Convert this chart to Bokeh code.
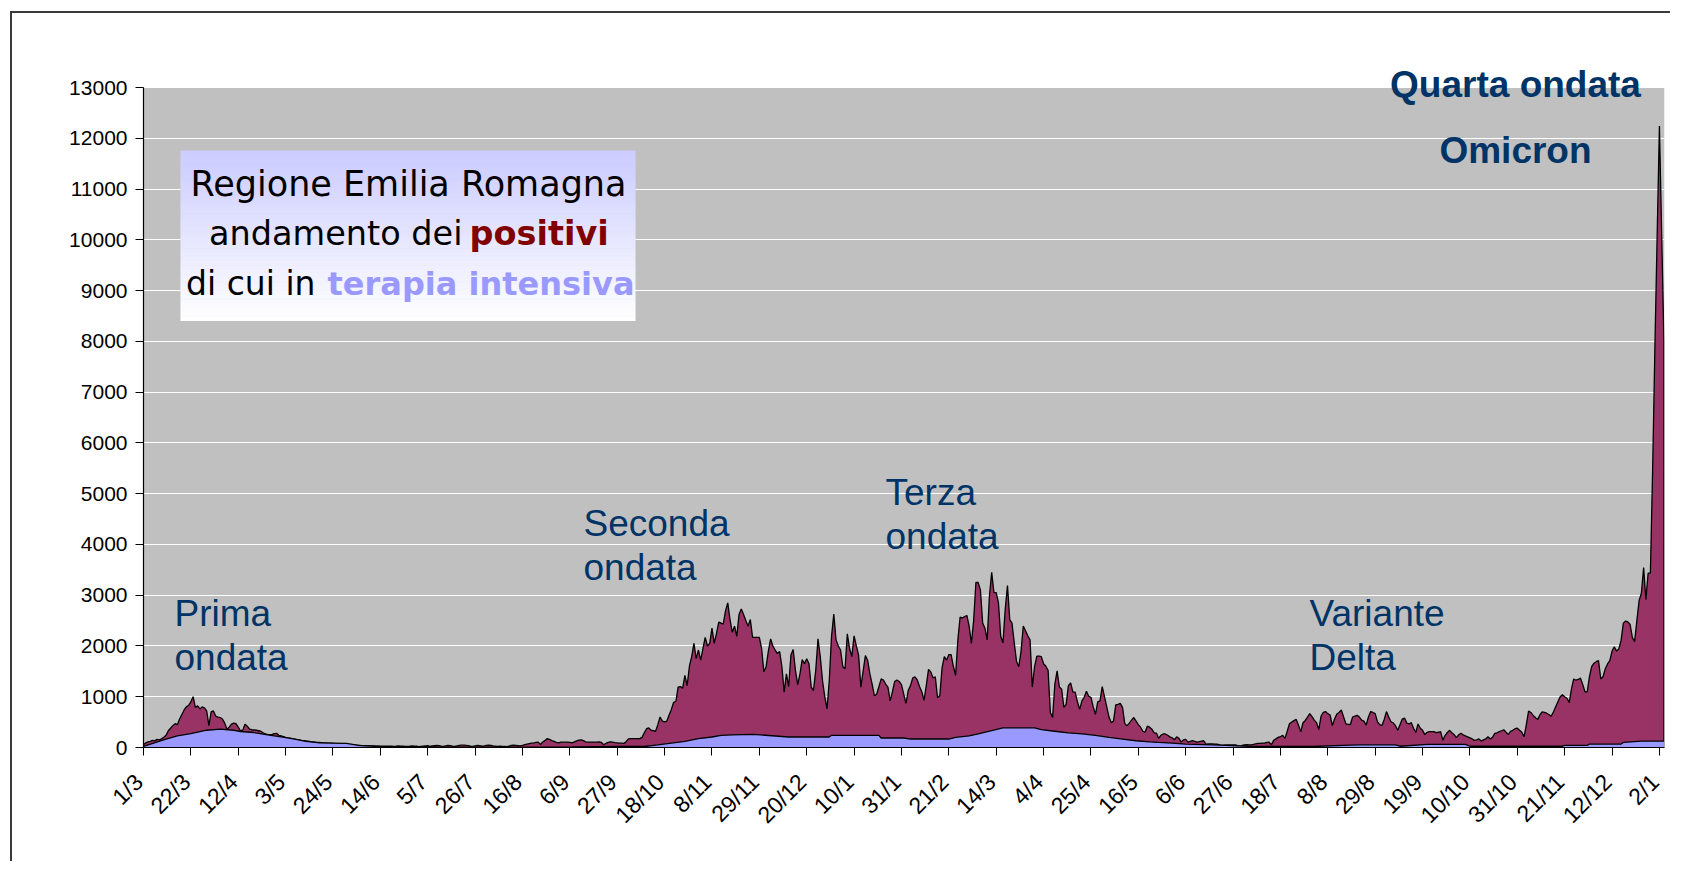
import math
from bokeh.plotting import figure
from bokeh.models import Range1d, FixedTicker, Label, NumeralTickFormatter
from bokeh.embed import file_html
from bokeh.resources import INLINE

# ---------------- data (daily new positives, Emilia-Romagna, from 1/3/2020) ----------------
mar20 = [60, 90, 110, 120, 140, 130, 160, 150, 170, 200, 240, 330, 380, 430, 470, 450, 560, 650, 740, 800,
         830, 900, 1000, 790, 820, 760, 800, 780, 720, 430, 700]
apr20 = [720, 620, 600, 590, 560, 480, 360, 400, 460, 480, 470, 400, 330, 340, 460, 420, 360, 350, 345, 340,
         330, 320, 290, 270, 260, 255, 260, 275, 280, 240]
may20 = [230, 215, 200, 190, 185, 175, 165, 155, 150, 140, 135, 130, 125, 115, 110, 105, 100, 100, 95, 90,
         90, 85, 85, 80, 75, 70, 70, 65, 60, 60, 55]
jun20 = [50, 45, 45, 40, 40, 38, 35, 35, 32, 30, 30, 28, 28, 25, 25, 25, 28, 25, 25, 22,
         25, 30, 28, 25, 20, 22, 25, 30, 28, 25]
jul20 = [15, 20, 25, 30, 35, 20, 30, 35, 40, 35, 25, 20, 30, 40, 35, 25, 20, 30, 40, 45,
         45, 40, 35, 25, 20, 30, 40, 35, 25, 30, 40]
aug20 = [45, 40, 30, 25, 20, 25, 20, 20, 15, 25, 40, 45, 40, 35, 30, 40, 55, 65, 75, 85,
         90, 100, 105, 60, 110, 140, 175, 160, 135, 120, 100]
sep20 = [90, 105, 105, 105, 105, 100, 90, 110, 130, 145, 150, 135, 110, 105, 105, 105, 105, 105, 110, 100,
         55, 80, 100, 110, 105, 95, 90, 85, 85, 80]
oct20 = [120, 170, 175, 175, 175, 175, 175, 200, 290, 370, 385, 340, 330, 320, 450, 600, 520, 507, 520, 640,
         750, 890, 910, 1190, 1200, 1170, 1420, 1220, 1600, 1790, 2050]
nov20 = [1750, 1920, 1720, 1950, 2170, 2000, 2050, 2350, 2050, 2250, 2470, 2450, 2430, 2690, 2850, 2520,
         2270, 2390, 2190, 2620, 2730, 2620, 2500, 2390, 2520, 2170, 2170, 2170, 2170, 1950]
dec20 = [1490, 1590, 1900, 2140, 2000, 1920, 1850, 1890, 1590, 1090, 1450, 1200, 1820, 1930, 1520, 1240,
         1450, 1730, 1650, 1750, 1650, 1190, 1120, 1520, 2140, 1790, 1320, 1000, 760, 1320, 2190]
jan21 = [2630, 2120, 2000, 1920, 1590, 1550, 2240, 1950, 1790, 2200, 2000, 1820, 1190, 1500, 1810, 1720,
         1450, 1250, 1020, 1050, 1200, 1350, 1330, 1250, 1190, 920, 1100, 1300, 1330, 1300, 1240]
feb21 = [1050, 870, 1120, 1220, 1370, 1390, 1330, 1200, 1100, 930, 1220, 1540, 1490, 1370, 1390, 980,
         1020, 1570, 1790, 1720, 1830, 1830, 1600, 1420, 2120, 2570, 2550, 2580]
mar21 = [2600, 2390, 2050, 2500, 3250, 3250, 3100, 2450, 2350, 2120, 2990, 3450, 3050, 3050, 2850, 2190,
         2060, 2720, 3190, 2520, 2450, 2060, 1700, 1590, 1890, 2390, 2300, 2200, 2120, 1190, 1590]
apr21 = [1800, 1800, 1790, 1650, 1600, 1520, 690, 590, 1250, 1510, 1190, 1150, 790, 850, 1220, 1270,
         1090, 1090, 900, 750, 920, 990, 1110, 1010, 990, 800, 650, 900, 920, 1200]
may21 = [1000, 800, 600, 490, 520, 840, 850, 870, 790, 470, 430, 480, 540, 590, 520, 450, 400, 320, 300,
         420, 400, 360, 290, 285, 180, 240, 267, 267, 240, 210, 190]
jun21 = [153, 210, 180, 107, 150, 160, 107, 120, 133, 120, 107, 115, 125, 133, 67, 70, 73, 70, 67, 65,
         50, 40, 45, 50, 53, 50, 50, 53, 35, 20]
jul21 = [40, 53, 55, 53, 53, 60, 70, 80, 82, 85, 87, 100, 107, 53, 140, 170, 200, 213, 240, 180,
         320, 467, 500, 530, 553, 440, 307, 487, 533, 600, 667]
aug21 = [610, 540, 487, 353, 620, 690, 707, 667, 640, 433, 560, 660, 690, 740, 600, 467, 455, 453, 600, 620,
         633, 600, 540, 520, 440, 600, 707, 690, 667, 507, 450]
sep21 = [433, 553, 707, 600, 507, 487, 430, 340, 450, 560, 580, 480, 464, 490, 380, 295, 464, 380, 338, 253,
         300, 312, 312, 312, 295, 300, 312, 143, 240, 295]
oct21 = [338, 290, 253, 194, 250, 279, 250, 228, 211, 190, 169, 140, 150, 169, 127, 150, 169, 211, 169, 200,
         279, 290, 312, 330, 350, 300, 253, 320, 338, 370, 380]
nov21 = [338, 300, 211, 450, 717, 690, 633, 590, 549, 640, 700, 690, 675, 650, 616, 700, 802, 900, 1000, 1038,
         1000, 971, 886, 1150, 1350, 1325, 1340, 1367, 1241, 1097]
dec21 = [1097, 1400, 1600, 1660, 1690, 1713, 1350, 1393, 1550, 1646, 1713, 1900, 1983, 1899, 1941, 2110,
         2450, 2490, 2473, 2422, 2169, 2085, 2500, 2895, 3038, 3545, 2912, 3435, 3435, 5500, 7900]
jan22 = [10100, 12240, 10100, 8000]

# intensive care occupancy (day index from 1/3/2020, value)
icu_day = [0, 10, 15, 21, 28, 34, 40, 43, 49, 55, 61, 67, 72, 78, 90, 96, 105, 115, 130, 150,
           170, 190, 210, 222, 228, 234, 240, 246, 252, 256, 261, 270, 286, 304, 305, 326, 327, 337, 340, 357,
           360, 366, 370, 376, 381, 395, 398, 404, 410, 416, 422, 428, 434, 440, 446, 450, 456, 462, 474, 480,
           490, 518, 535, 539, 555, 557, 569, 586, 588, 629, 630, 640, 641, 655, 656, 664, 674]
icu_val = [20, 165, 230, 275, 340, 360, 340, 315, 295, 250, 210, 165, 120, 90, 80, 35, 20, 15, 10, 8,
           8, 10, 20, 20, 53, 87, 120, 173, 207, 240, 247, 260, 207, 207, 240, 240, 187, 187, 167, 167,
           200, 227, 267, 333, 387, 387, 353, 320, 287, 267, 240, 200, 167, 133, 110, 100, 87, 67, 53, 40,
           25, 20, 47, 53, 53, 25, 60, 60, 25, 25, 42, 42, 68, 68, 100, 127, 127]

tick_labels = ["1/3", "22/3", "12/4", "3/5", "24/5", "14/6", "5/7", "26/7", "16/8", "6/9", "27/9",
               "18/10", "8/11", "29/11", "20/12", "10/1", "31/1", "21/2", "14/3", "4/4", "25/4",
               "16/5", "6/6", "27/6", "18/7", "8/8", "29/8", "19/9", "10/10", "31/10", "21/11",
               "12/12", "2/1"]
y_ticks = list(range(0, 13001, 1000))

positivi = (mar20 + apr20 + may20 + jun20 + jul20 + aug20 + sep20 + oct20 + nov20 + dec20 +
            jan21 + feb21 + mar21 + apr21 + may21 + jun21 + jul21 + aug21 + sep21 + oct21 + nov21 +
            dec21 + jan22)
days = list(range(len(positivi)))
x_ticks = [21 * i for i in range(len(tick_labels))]

# ---------------- layout helpers (window pixel -> data) ----------------
FL, FR, FT, FB = 143, 1664, 87, 747      # grey plot area in window pixels
FRAME_TOP = 40                           # frame extends above the grey area for the top label
XEND = days[-1] + 0.25
YMAX = 13000
YTOP = YMAX * (FB - FRAME_TOP) / (FB - FT)


def dx(px):
    return (px - FL) / (FR - FL) * XEND


def dy(py):
    return (FB - py) / (FB - FT) * YMAX


CX, CY = 12, 13                          # canvas origin in window (after css margin+border)
W, H = 1660, 850
p = figure(width=W, height=H, x_range=Range1d(0, XEND), y_range=Range1d(0, YTOP),
           output_backend="svg", toolbar_location=None,
           min_border_left=FL - CX, min_border_right=CX + W - FR,
           min_border_top=FRAME_TOP - CY, min_border_bottom=CY + H - FB)
p.styles = {"margin-left": "10px", "margin-top": "11px",
            "border-left": "2px solid #3a3a3a", "border-top": "2px solid #3a3a3a"}

p.background_fill_color = "white"
p.border_fill_color = "white"
p.outline_line_color = None
p.xgrid.visible = False
p.ygrid.ticker = FixedTicker(ticks=y_ticks)
p.ygrid.grid_line_color = "white"
p.ygrid.grid_line_width = 1.2

# grey plot area (below the grid)
p.quad(left=0, right=XEND, bottom=0, top=YMAX, fill_color="#C0C0C0", line_color=None, level="image")

FONT = "Liberation Sans"
for ax in (p.xaxis[0], p.yaxis[0]):
    ax.axis_line_color = "black"
    ax.axis_line_width = 1.2
    ax.major_tick_line_color = "black"
    ax.major_tick_in = 0
    ax.major_tick_out = 8
    ax.minor_tick_line_color = None
    ax.major_label_text_font = FONT
    ax.major_label_text_color = "black"

p.yaxis.bounds = (0, YMAX)
p.yaxis.ticker = FixedTicker(ticks=y_ticks)
p.yaxis.formatter = NumeralTickFormatter(format="0")
p.yaxis.major_label_standoff = 8
p.yaxis.major_label_text_font_size = "21px"

p.xaxis.ticker = FixedTicker(ticks=x_ticks)
# trailing no-break space nudges each rotated label back along its own direction
p.xaxis.major_label_overrides = {t: lab + "\u00a0" for t, lab in zip(x_ticks, tick_labels)}
p.xaxis.major_label_orientation = math.pi / 4
p.xaxis.major_label_standoff = 18
p.xaxis.major_label_text_font_size = "23px"

# ---------------- areas ----------------
p.varea(x=days, y1=0, y2=positivi, fill_color="#993366")
p.line(x=days + [days[-1]], y=positivi + [0], line_color="black", line_width=1.3)
p.varea(x=icu_day, y1=0, y2=icu_val, fill_color="#9999FF")
p.line(x=icu_day, y=icu_val, line_color="black", line_width=1.3)

# ---------------- title box (gradient) ----------------
bx0, bx1, by0, by1 = 180, 635, 150, 320
n = 40
for i in range(n):
    t = i / (n - 1)
    r = int(204 + (255 - 204) * t)
    col = "#%02x%02x%02x" % (r, r, 255)
    top_px = by0 + (by1 - by0) * i / n
    bot_px = by0 + (by1 - by0) * (i + 1) / n
    p.quad(left=dx(bx0), right=dx(bx1), top=dy(top_px), bottom=dy(bot_px + 0.6),
           fill_color=col, line_color=None)

TF = "DejaVu Sans"
YOFF = 12   # baseline correction (px)


def lab(px, py, text, font=FONT, size="37px", color="#003366", style="normal", align="left"):
    p.add_layout(Label(x=dx(px), y=dy(py - YOFF), text=text, text_font=font, text_font_size=size,
                       text_color=color, text_font_style=style, text_align=align,
                       text_baseline="alphabetic"))


lab(408, 195, "Regione Emilia Romagna", font=TF, size="35px", color="black", align="center")
lab(462, 245, "andamento dei", font=TF, size="33.5px", color="black", align="right")
lab(469, 245, "positivi", font=TF, size="33.5px", color="#800000", style="bold")
lab(315, 295, "di cui in", font=TF, size="33px", color="black", align="right")
lab(327, 295, "terapia intensiva", font=TF, size="32px", color="#9999FF", style="bold")

# ---------------- wave annotations ----------------
lab(174, 625, "Prima")
lab(174, 669, "ondata")
lab(583, 535, "Seconda")
lab(583, 579, "ondata")
lab(885, 504, "Terza")
lab(885, 548, "ondata")
lab(1309, 625, "Variante")
lab(1309, 669, "Delta")
lab(1515, 96, "Quarta ondata", style="bold", align="center")
lab(1515, 162, "Omicron", style="bold", align="center")

open("out.html", "w").write(file_html(p, INLINE))
